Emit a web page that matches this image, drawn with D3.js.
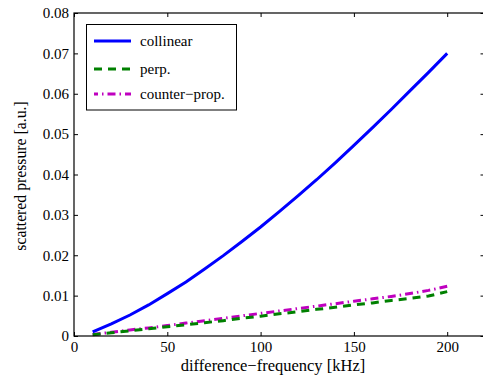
<!DOCTYPE html>
<html><head><meta charset="utf-8">
<script src="https://cdn.jsdelivr.net/npm/d3@7"></script>
</head><body style="margin:0;background:#fff"><svg id="c" width="483" height="378"></svg>
<script>
const freq = [10,20,30,40,50,60,70,80,90,100,110,120,130,140,150,160,170,180,190,200];
const collinear = [0.0010,0.0030,0.0052,0.0077,0.0105,0.0134,0.0166,0.0199,0.0234,0.0270,0.0308,0.0347,0.0387,0.0429,0.0472,0.0516,0.0561,0.0607,0.0653,0.0700];
const perp = [0.0003,0.0008,0.0013,0.0018,0.0023,0.0028,0.0033,0.0038,0.0044,0.0049,0.0055,0.0060,0.0066,0.0071,0.0077,0.0082,0.0088,0.0093,0.0099,0.0110];
const counter = [0.0004,0.0009,0.0015,0.0020,0.0026,0.0032,0.0038,0.0044,0.0050,0.0056,0.0062,0.0068,0.0074,0.0080,0.0086,0.0092,0.0098,0.0105,0.0113,0.0123];
const xTicks = [0,50,100,150,200];
const yTicks = [0,0.01,0.02,0.03,0.04,0.05,0.06,0.07,0.08];
const seriesNames = ["collinear","perp.","counter\u2212prop."];

const F = '"Liberation Serif"';
const svg = d3.select("#c");
const L=74, T=13, B=336, R=74+220*1.866;
const x = d3.scaleLinear().domain([0,220]).range([L,R]);
const y = d3.scaleLinear().domain([0,0.08]).range([B,T]);

const series = [
  {name:seriesNames[0], vals:collinear, color:"#0000ff", dash:null},
  {name:seriesNames[1], vals:perp, color:"#008000", dash:"8,6"},
  {name:seriesNames[2], vals:counter, color:"#bf00bf", dash:"8,4,1.5,4"}
];
const line = d3.line().x((d,i)=>x(freq[i])).y(d=>y(d));
series.slice().reverse().forEach(s=>{
  svg.append("path").attr("d",line(s.vals)).attr("fill","none")
    .attr("stroke",s.color).attr("stroke-width",3)
    .attr("stroke-dasharray",s.dash);
});

svg.append("rect").attr("x",L).attr("y",T).attr("width",R-L).attr("height",B-T)
  .attr("fill","none").attr("stroke","#000").attr("stroke-width",1.2);

const tl=4;
const gx = svg.append("g").attr("transform",`translate(0,${B})`)
  .call(d3.axisBottom(x).tickValues(xTicks).tickSize(-tl).tickPadding(5).tickFormat(d3.format("d")));
const gxt = svg.append("g").attr("transform",`translate(0,${T})`)
  .call(d3.axisTop(x).tickValues(xTicks).tickSize(-tl).tickFormat(""));
const gy = svg.append("g").attr("transform",`translate(${L},0)`)
  .call(d3.axisLeft(y).tickValues(yTicks).tickSize(-tl).tickPadding(5).tickFormat(d=>d===0?"0":d3.format(".2f")(d)));
const gyr = svg.append("g").attr("transform",`translate(${R},0)`)
  .call(d3.axisRight(y).tickValues(yTicks).tickSize(-tl).tickFormat(""));
[gx,gxt,gy,gyr].forEach(g=>{
  g.select(".domain").remove();
  g.selectAll("line").attr("stroke","#000");
  g.selectAll("text").attr("fill","#000").style("font-family",F).style("font-size","15px");
});

svg.append("text").attr("transform","translate(273,371) scale(1.1)").attr("text-anchor","middle")
  .style("font-family",F).style("font-size","15px").text("difference\u2212frequency [kHz]");
svg.append("text").attr("transform","translate(26,176) rotate(-90) scale(1.05)").attr("text-anchor","middle")
  .style("font-family",F).style("font-size","15px").text("scattered pressure [a.u.]");

const lg = svg.append("g");
lg.append("rect").attr("x",86.5).attr("y",24.5).attr("width",150).attr("height",85.5)
  .attr("fill","#fff").attr("stroke","#000").attr("stroke-width",1);
const ly=[41,69,94];
series.forEach((s,i)=>{
  lg.append("line").attr("x1",94).attr("x2",131).attr("y1",ly[i]).attr("y2",ly[i])
    .attr("stroke",s.color).attr("stroke-width",3).attr("stroke-dasharray",s.dash)
    .attr("stroke-dashoffset", i===2 ? 4 : 0);
  lg.append("text").attr("x",140).attr("y",ly[i]+5).style("font-family",F).style("font-size","15px").text(s.name);
});
</script></body></html>
